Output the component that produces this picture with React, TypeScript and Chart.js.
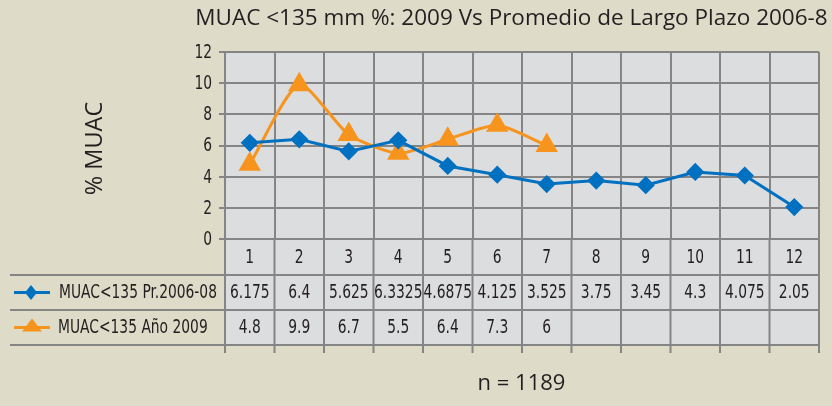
import React, { useEffect, useRef } from "react";
import { Chart, registerables } from "chart.js";

Chart.register(...registerables);

const categories = ["1", "2", "3", "4", "5", "6", "7", "8", "9", "10", "11", "12"];
const seriesAvgName = "MUAC<135 Pr.2006-08";
const seriesAvg = [6.175, 6.4, 5.625, 6.3325, 4.6875, 4.125, 3.525, 3.75, 3.45, 4.3, 4.075, 2.05];
const series2009Name = "MUAC<135 Año 2009";
const series2009: (number | null)[] = [4.8, 9.9, 6.7, 5.5, 6.4, 7.3, 6, null, null, null, null, null];
const yTicks = [0, 2, 4, 6, 8, 10, 12];
const titleText = "MUAC <135 mm %: 2009 Vs Promedio de Largo Plazo 2006-8";
const yAxisTitle = "% MUAC";
const footnote = "n = 1189";

const BLUE = "#0070C0";
const ORANGE = "#F7941D";
const BG = "#DEDCC8";
const PLOT = "#DCDDDF";
const GRID = "#858585";
const TEXT = "#231F20";
const NARROW = '"Liberation Sans Narrow", "DejaVu Sans Condensed", "Roboto Condensed", sans-serif';
const REG = '"Open Sans", "Noto Sans", sans-serif';
const COND = 0.81;

function condText(ctx: CanvasRenderingContext2D, text: string, x: number, y: number, align: CanvasTextAlign) {
  ctx.save();
  ctx.translate(x, y);
  ctx.scale(COND, 1);
  ctx.textAlign = align;
  ctx.fillText(text, 0, 0);
  ctx.restore();
}

export default function App() {
  const ref = useRef<HTMLCanvasElement | null>(null);

  useEffect(() => {
    document.body.style.margin = "0";
    const canvas = ref.current;
    if (!canvas) return;

    const rowTop = 239;
    const rowH = [36, 35, 35];
    const tableLeft = 10;

    const tablePlugin = {
      id: "tablePlugin",
      beforeDraw(chart: any) {
        const ctx = chart.ctx;
        const a = chart.chartArea;
        ctx.save();
        ctx.fillStyle = BG;
        ctx.fillRect(0, 0, chart.width, chart.height);
        ctx.fillStyle = PLOT;
        ctx.fillRect(a.left, a.top, a.right - a.left, a.bottom - a.top);
        const total = rowH[0] + rowH[1] + rowH[2];
        ctx.fillRect(a.left, rowTop, a.right - a.left, total);
        ctx.restore();
      },
      afterDraw(chart: any) {
        const ctx = chart.ctx;
        const a = chart.chartArea;
        const xs = chart.scales.x;
        const ys = chart.scales.y;
        ctx.save();
        ctx.fillStyle = TEXT;
        // title
        ctx.font = `22.5px ${REG}`;
        ctx.textAlign = "center";
        ctx.textBaseline = "alphabetic";
        ctx.fillText(titleText, 511.5, 24.5);
        // y axis title
        ctx.save();
        ctx.translate(102, 148.5);
        ctx.rotate(-Math.PI / 2);
        ctx.font = `23.5px ${REG}`;
        ctx.fillText(yAxisTitle, 0, 0);
        ctx.restore();
        // footnote
        ctx.font = `22px ${REG}`;
        ctx.fillText(footnote, 521.5, 390);

        // y tick labels
        ctx.font = `19px ${NARROW}`;
        ctx.textBaseline = "middle";
        yTicks.forEach((v) => {
          condText(ctx, String(v), 212, ys.getPixelForValue(v) + 1, "right");
        });

        // table lines
        const y1 = rowTop + rowH[0];
        const y2 = y1 + rowH[1];
        const y3 = y2 + rowH[2];
        ctx.strokeStyle = GRID;
        ctx.lineWidth = 2;
        ctx.beginPath();
        for (const y of [y1, y2, y3]) {
          ctx.moveTo(tableLeft, y);
          ctx.lineTo(a.right, y);
        }
        const n = categories.length;
        const w = (a.right - a.left) / n;
        for (let i = 0; i <= n; i++) {
          const x = a.left + i * w;
          ctx.moveTo(x, rowTop);
          ctx.lineTo(x, y3 + 8);
        }
        ctx.stroke();

        // header + values
        ctx.fillStyle = TEXT;
        ctx.font = `19px ${NARROW}`;
        categories.forEach((c, i) => {
          const cx = xs.getPixelForValue(i);
          condText(ctx, c, cx, rowTop + rowH[0] / 2 + 1, "center");
          condText(ctx, String(seriesAvg[i]), cx, y1 + rowH[1] / 2 + 1, "center");
          const v = series2009[i];
          if (v !== null) condText(ctx, String(v), cx, y2 + rowH[2] / 2 + 1, "center");
        });

        // legend entries
        const r1 = y1 + rowH[1] / 2;
        const r2 = y2 + rowH[2] / 2;
        ctx.lineWidth = 3;
        ctx.strokeStyle = BLUE;
        ctx.beginPath();
        ctx.moveTo(14, r1);
        ctx.lineTo(50, r1);
        ctx.stroke();
        ctx.fillStyle = BLUE;
        ctx.beginPath();
        ctx.moveTo(31, r1 - 7.5);
        ctx.lineTo(37, r1);
        ctx.lineTo(31, r1 + 7.5);
        ctx.lineTo(25, r1);
        ctx.closePath();
        ctx.fill();

        ctx.strokeStyle = ORANGE;
        ctx.beginPath();
        ctx.moveTo(14, r2);
        ctx.lineTo(50, r2);
        ctx.stroke();
        ctx.fillStyle = ORANGE;
        ctx.beginPath();
        ctx.moveTo(32, r2 - 9);
        ctx.lineTo(42, r2 + 4);
        ctx.lineTo(22, r2 + 4);
        ctx.closePath();
        ctx.fill();

        ctx.fillStyle = TEXT;
        ctx.font = `19px ${NARROW}`;
        condText(ctx, seriesAvgName, 59, r1 + 1, "left");
        condText(ctx, series2009Name, 58, r2 + 1, "left");
        ctx.restore();
      },
    };

    const chart = new Chart(canvas, {
      type: "line",
      data: {
        labels: categories,
        datasets: [
          {
            label: seriesAvgName,
            data: seriesAvg,
            borderColor: BLUE,
            backgroundColor: BLUE,
            borderWidth: 3,
            pointStyle: "rectRot",
            pointRadius: 7,
            pointHoverRadius: 7,
            tension: 0,
          },
          {
            label: series2009Name,
            data: series2009,
            borderColor: ORANGE,
            backgroundColor: ORANGE,
            borderWidth: 3,
            pointStyle: "triangle",
            pointRadius: 10,
            pointHoverRadius: 10,
            tension: 0.22,
            spanGaps: false,
          },
        ],
      },
      options: {
        animation: false,
        responsive: false,
        maintainAspectRatio: false,
        layout: { padding: { top: 52, bottom: 406 - 239, left: 0, right: 2 } },
        plugins: {
          legend: { display: false },
          title: { display: false },
          tooltip: { enabled: false },
        },
        scales: {
          x: {
            type: "category",
            offset: true,
            grid: { display: true, offset: true, color: GRID, lineWidth: 2, drawTicks: false },
            border: { display: false },
            ticks: { display: false },
            afterFit: (s: any) => {
              s.height = 0;
            },
          },
          y: {
            min: 0,
            max: 12,
            afterBuildTicks: (s: any) => {
              s.ticks = yTicks.map((v) => ({ value: v }));
            },
            grid: { color: GRID, lineWidth: 2, drawTicks: true, tickLength: 6 },
            border: { display: true, color: GRID, width: 2 },
            ticks: { display: false },
            afterFit: (s: any) => {
              s.width = 225;
            },
          },
        },
      },
      plugins: [tablePlugin],
    });

    return () => {
      chart.destroy();
    };
  }, []);

  return (
    <div style={{ width: 832, height: 406 }}>
      <canvas ref={ref} width={832} height={406} style={{ display: "block", width: 832, height: 406 }} />
    </div>
  );
}
